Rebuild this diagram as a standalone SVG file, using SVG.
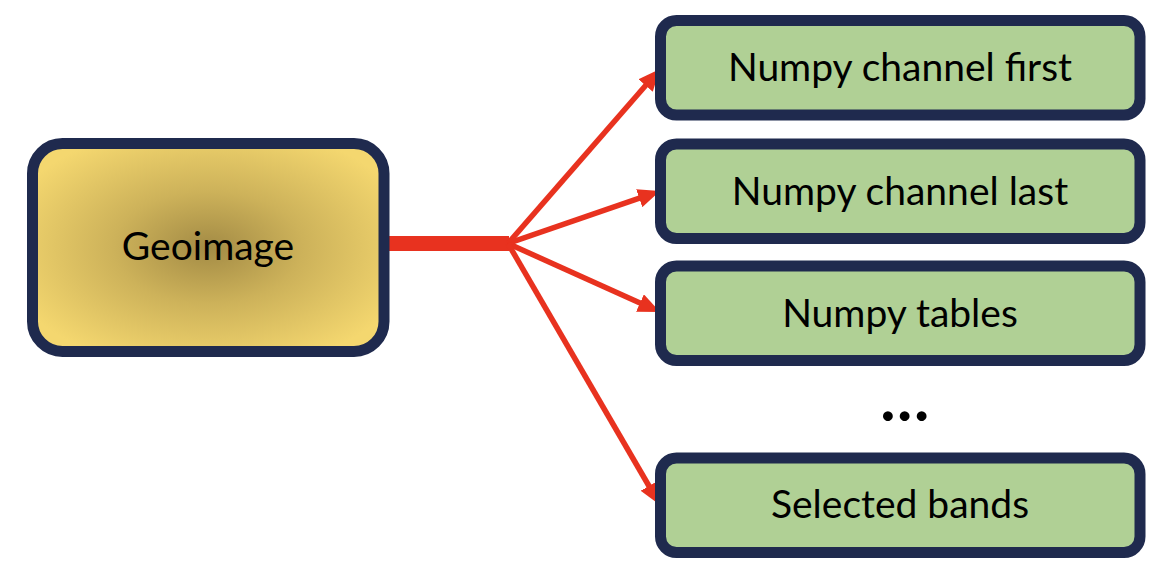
<svg xmlns="http://www.w3.org/2000/svg" width="1174" height="582" viewBox="0 0 1174 582">
  <style>
    .box { stroke: #1F2A4E; stroke-width: 11; }
    .out { fill: #B0D095; }
    .lbl { font-family: Lato, "Liberation Sans", sans-serif; font-size: 39px; fill: #000; text-anchor: middle; }
    .arrow { stroke: #E8321F; stroke-width: 5.5; fill: none; marker-end: url(#head); }
  </style>
  <defs>
    <radialGradient id="geoFill" cx="0.5" cy="0.5" r="0.6" gradientUnits="objectBoundingBox">
      <stop offset="0" stop-color="#A38B45"/>
      <stop offset="0.45" stop-color="#CDB25A"/>
      <stop offset="1" stop-color="#F4D76F"/>
    </radialGradient>
    <marker id="head" viewBox="0 0 22 19" refX="11" refY="9.5" markerWidth="22" markerHeight="19" markerUnits="userSpaceOnUse" orient="auto">
      <path d="M0,0 L22,9.5 L0,19 Z" fill="#E8321F"/>
    </marker>
  </defs>
  <rect width="1174" height="582" fill="#FFFFFF"/>

  <g id="connectors">
    <rect x="388" y="236" width="121" height="15" fill="#E8321F"/>
    <line class="arrow" x1="508" y1="243.5" x2="652.8" y2="77.3"/>
    <line class="arrow" x1="508" y1="243.5" x2="649.6" y2="194.6"/>
    <line class="arrow" x1="508" y1="243.5" x2="650.0" y2="307.5"/>
    <line class="arrow" x1="508" y1="243.5" x2="654.5" y2="495.5"/>
  </g>

  <g id="geoimage">
    <rect class="box" x="32.5" y="143.5" width="351.5" height="208" rx="30" fill="url(#geoFill)"/>
    <text class="lbl" x="208" y="260">Geoimage</text>
  </g>

  <g id="numpy-channel-first">
    <rect class="box out" x="660.5" y="20.5" width="479.5" height="94.5" rx="16"/>
    <text class="lbl" x="900" y="81">Numpy channel first</text>
  </g>

  <g id="numpy-channel-last">
    <rect class="box out" x="660.5" y="144" width="479.5" height="94.5" rx="16"/>
    <text class="lbl" x="900" y="204.5">Numpy channel last</text>
  </g>

  <g id="numpy-tables">
    <rect class="box out" x="660.5" y="266" width="479.5" height="94.5" rx="16"/>
    <text class="lbl" x="900" y="326.5">Numpy tables</text>
  </g>

  <g id="ellipsis">
    <text x="906" y="421" font-family="Lato, 'Liberation Sans', sans-serif" font-size="60" font-weight="900" text-anchor="middle" letter-spacing="2.5">...</text>
  </g>

  <g id="selected-bands">
    <rect class="box out" x="660.5" y="458" width="479.5" height="94.5" rx="16"/>
    <text class="lbl" x="900" y="518">Selected bands</text>
  </g>
</svg>
